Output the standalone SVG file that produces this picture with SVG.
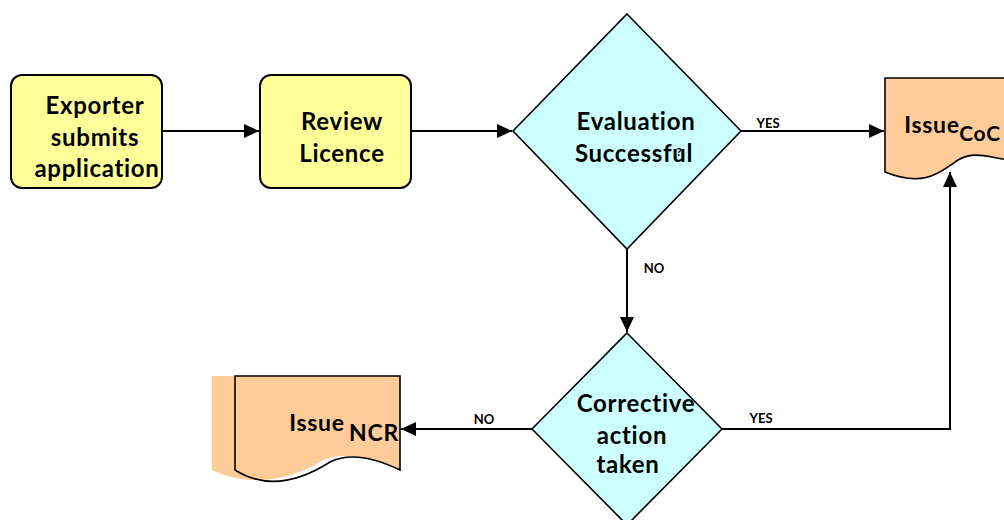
<svg xmlns="http://www.w3.org/2000/svg" width="1004" height="520" viewBox="0 0 1004 520">
<defs>
<marker id="ah" markerWidth="16" markerHeight="16" viewBox="0 0 16 16" refX="15" refY="8" orient="auto" markerUnits="userSpaceOnUse">
<path d="M0,1 L15,8 L0,15 Z" fill="#000"/>
</marker>
</defs>
<style>
.box{fill:#FFFF99;stroke:#000;stroke-width:2}
.dia{fill:#CCFFFF;stroke:#000;stroke-width:1.6}
.doc{fill:#FFCC99}
.docl{fill:none;stroke:#000;stroke-width:1.6}
.t{font-family:Lato,"Liberation Sans",sans-serif;font-weight:bold;font-size:24px;letter-spacing:0.7px;font-variant-ligatures:none;fill:#000;text-anchor:middle}
.s{font-family:Lato,"Liberation Sans",sans-serif;font-weight:bold;font-size:13px;fill:#000;text-anchor:middle}
.c{fill:none;stroke:#000;stroke-width:2}
</style>
<rect width="1004" height="520" fill="#fff"/>
<g id="connectors">
<line class="c" x1="162" y1="131" x2="259" y2="131" marker-end="url(#ah)"/>
<line class="c" x1="411" y1="131" x2="512" y2="131" marker-end="url(#ah)"/>
<line class="c" x1="741" y1="131" x2="884" y2="131" marker-end="url(#ah)"/>
<line class="c" x1="627" y1="249" x2="627" y2="332" marker-end="url(#ah)" stroke-width="1.5"/>
<polyline class="c" points="722,429 950,429 950,172" stroke="#333" marker-end="url(#ah)" stroke-width="1.6"/>
<line class="c" x1="532" y1="429" x2="401" y2="429" marker-end="url(#ah)" stroke-width="1.6"/>
<text class="s" x="768" y="128">YES</text>
<text class="s" x="654" y="273">NO</text>
<text class="s" x="761" y="423">YES</text>
<text class="s" x="484" y="424">NO</text>
</g>
<g id="exporter">
<rect class="box" x="11" y="75" width="151" height="113" rx="11"/>
<text class="t" x="95" y="114">Exporter</text>
<text class="t" x="95" y="146">submits</text>
<text class="t" x="97" y="177">application</text>
</g>
<g id="review">
<rect class="box" x="260" y="75" width="151" height="113" rx="11"/>
<text class="t" x="342" y="130">Review</text>
<text class="t" x="342" y="162">Licence</text>
</g>
<g id="evaluation">
<polygon class="dia" points="627,14 741,131 627,249 513,131"/>
<text class="t" x="636" y="130">Evaluation</text>
<text class="t" x="634" y="162">Successful</text>
<text class="s" x="679" y="156" style="font-size:12px">?</text>
</g>
<g id="corrective">
<polygon class="dia" points="627,333 722,429 627,525 532,429"/>
<text class="t" x="636" y="412">Corrective</text>
<text class="t" x="632" y="444">action</text>
<text class="t" x="628" y="473">taken</text>
</g>
<g id="coc">
<path class="doc" d="M885,78 L1010,78 L1010,160 C990,158 975,150 958,160 C940,172 925,188 885,172 Z"/>
<path class="docl" d="M1010,78 L885,78 L885,172 C925,188 940,172 958,160 C975,150 990,158 1010,160"/>
<text class="t" x="932" y="133" style="font-size:23px">Issue</text>
<text class="t" x="980" y="141" style="font-size:21px">CoC</text>
</g>
<g id="ncr">
<path class="doc" d="M212,376 L400,376 L400,470 C370,458 340,450 320,462 C290,480 250,488 212,470 Z"/>
<path class="docl" d="M235,376 L400,376 L400,470 C375,458 350,452 330,462 C305,478 270,492 235,470 Z"/>
<text class="t" x="317" y="431" style="font-size:23px">Issue</text>
<text class="t" x="374" y="441" style="font-size:23px">NCR</text>
</g>
</svg>
